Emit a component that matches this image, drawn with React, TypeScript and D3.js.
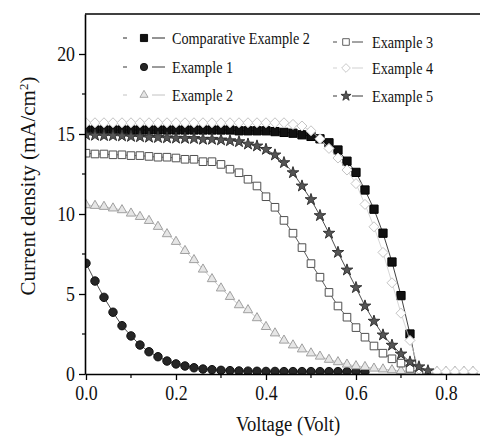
import React from "react";
import * as d3 from "d3";

// J-V curves, current density (mA/cm2) read every 0.02 V
const voltage = [
  0, 0.02, 0.04, 0.06, 0.08, 0.1, 0.12, 0.14, 0.16, 0.18, 0.2, 0.22, 0.24, 0.26, 0.28,
  0.3, 0.32, 0.34, 0.36, 0.38, 0.4, 0.42, 0.44, 0.46, 0.48, 0.5, 0.52, 0.54, 0.56, 0.58,
  0.6, 0.62, 0.64, 0.66, 0.68, 0.7, 0.72, 0.74, 0.76, 0.78, 0.8, 0.82, 0.84, 0.86,
];

const comparativeEx2 = [
  15.25, 15.25, 15.25, 15.25, 15.25, 15.25, 15.25, 15.25, 15.25, 15.25, 15.25, 15.25,
  15.25, 15.25, 15.25, 15.25, 15.25, 15.2, 15.2, 15.2, 15.2, 15.15, 15.1, 15.05, 14.95,
  14.85, 14.7, 14.45, 14.0, 13.3, 12.6, 11.5, 10.3, 8.8, 7.0, 4.9, 2.5, -0.3,
];
const example1 = [
  6.92, 5.81, 4.79, 3.86, 3.02, 2.38, 1.81, 1.39, 1.08, 0.81, 0.63, 0.5, 0.39, 0.31,
  0.27, 0.23, 0.21, 0.19, 0.18, 0.17, 0.16, 0.16, 0.15, 0.15, 0.15, 0.15, 0.15, 0.15,
  0.15, 0.15, 0.15, 0.15,
];
const example2 = [
  10.56, 10.52, 10.46, 10.36, 10.25, 10.04, 9.83, 9.58, 9.21, 8.75, 8.27, 7.7, 7.13,
  6.54, 5.94, 5.36, 4.83, 4.31, 4.0, 3.5, 2.95, 2.55, 2.1, 1.8, 1.55, 1.3, 1.1, 0.9,
  0.75, 0.6, 0.5, 0.45, 0.35, 0.3, 0.25, 0.2, 0.18, 0.16, 0.15, 0.15, 0.15, 0.15, 0.15,
  0.15,
];
const example3 = [
  13.8, 13.75, 13.75, 13.7, 13.7, 13.65, 13.65, 13.6, 13.55, 13.55, 13.5, 13.42, 13.42,
  13.27, 13.27, 13.1, 12.8, 12.58, 12.17, 11.75, 11.08, 10.42, 9.6, 8.8, 7.9, 6.9, 6.05,
  5.1, 4.25, 3.55, 2.9, 2.3, 1.75, 1.3, 0.95, 0.68, 0.35, 0.1,
];
const example4 = [
  15.7, 15.7, 15.7, 15.7, 15.7, 15.7, 15.7, 15.7, 15.7, 15.7, 15.7, 15.7, 15.7, 15.7,
  15.7, 15.7, 15.7, 15.7, 15.7, 15.7, 15.7, 15.7, 15.7, 15.6, 15.5, 15.2, 14.7, 14.1,
  13.5, 12.75, 11.9, 10.6, 9.2, 7.6, 5.7, 3.8, 2.1, 0.3, 0.15, 0.15, 0.15, 0.15, 0.15,
  0.15,
];
const example5 = [
  14.95, 14.92, 14.9, 14.9, 14.88, 14.85, 14.83, 14.8, 14.78, 14.76, 14.74, 14.73, 14.72,
  14.67, 14.67, 14.63, 14.58, 14.52, 14.37, 14.25, 14.04, 13.69, 13.21, 12.58, 11.75,
  10.9, 9.9, 8.8, 7.6, 6.5, 5.4, 4.25, 3.3, 2.44, 1.8, 1.25, 0.75, 0.45, 0.2,
];

const seriesNames = [
  "Comparative Example 2",
  "Example 1",
  "Example 2",
  "Example 3",
  "Example 4",
  "Example 5",
];

const yMajorTicks = [0, 5, 10, 15, 20];
const yMinorTicks = [2.5, 7.5, 12.5, 17.5];
const xMajorTicks = [0, 0.2, 0.4, 0.6, 0.8];
const xMinorTicks = [0.1, 0.3, 0.5, 0.7];

const FONT = "Liberation Serif, DejaVu Serif, serif";

// the scanned figure uses a narrow Times face: squeeze text horizontally
function squeeze(sel: any, ratio: number) {
  sel.each(function (this: SVGTextElement) {
    const w = this.getComputedTextLength();
    d3.select(this)
      .attr("textLength", w * ratio)
      .attr("lengthAdjust", "spacingAndGlyphs");
  });
}

export default function App() {
  const ref = React.useRef<SVGSVGElement>(null);

  React.useEffect(() => {
    drawChart();
  }, []);

  function drawChart() {
    const svg = d3.select(ref.current);
    svg.selectAll("*").remove();

    const left = 85;
    const right = 480;
    const top = 14;
    const bottom = 374;

    const x = d3.scaleLinear().domain([-0.0022, 0.8756]).range([left, right]);
    const y = d3.scaleLinear().domain([0, 22.5]).range([bottom, top]);

    const styles = [
      { values: comparativeEx2, symbol: d3.symbolSquare, size: 68, fill: "#111", stroke: "#000", line: "#111" },
      { values: example1, symbol: d3.symbolCircle, size: 56, fill: "#262626", stroke: "#111", line: "#222" },
      { values: example2, symbol: d3.symbolTriangle, size: 38, fill: "#e6e6e6", stroke: "#a0a0a0", line: "#bbb" },
      { values: example3, symbol: d3.symbolSquare, size: 58, fill: "#fff", stroke: "#505050", line: "#333" },
      { values: example4, symbol: d3.symbolDiamond2, size: 64, fill: "#fff", stroke: "#c4c4c4", line: "#ccc" },
      { values: example5, symbol: d3.symbolStar, size: 42, fill: "#555", stroke: "#333", line: "#222" },
    ];

    svg.append("defs")
      .append("clipPath")
      .attr("id", "plotClip")
      .append("rect")
      .attr("x", left)
      .attr("y", top)
      .attr("width", right - left)
      .attr("height", bottom - top);

    const plot = svg.append("g").attr("clip-path", "url(#plotClip)");

    styles.forEach((s) => {
      const pts = s.values.map((v, i) => [voltage[i], v] as [number, number]);
      plot.append("path")
        .datum(pts)
        .attr("fill", "none")
        .attr("stroke", s.line)
        .attr("stroke-width", 0.8)
        .attr("d", d3.line().x((d) => x(d[0])).y((d) => y(d[1])));

      plot.selectAll(null)
        .data(pts)
        .enter()
        .append("path")
        .attr("transform", (d) => `translate(${x(d[0])},${y(d[1])})`)
        .attr("d", d3.symbol().type(s.symbol).size(s.size)())
        .attr("fill", s.fill)
        .attr("stroke", s.stroke)
        .attr("stroke-width", 1);
    });

    // axes
    const yAxis = svg.append("g").attr("transform", `translate(${left},0)`);
    yAxis.call(
      d3.axisLeft(y).tickValues(yMajorTicks).tickSize(6).tickSizeOuter(0).tickPadding(4)
    );
    yAxis.append("g")
      .selectAll("line")
      .data(yMinorTicks)
      .enter()
      .append("line")
      .attr("x1", -3)
      .attr("x2", 0)
      .attr("y1", (d) => y(d))
      .attr("y2", (d) => y(d))
      .attr("stroke", "#000")
      .attr("stroke-width", 1.2);

    const xAxis = svg.append("g").attr("transform", `translate(0,${bottom})`);
    xAxis.call(
      d3.axisBottom(x)
        .tickValues(xMajorTicks)
        .tickSize(6)
        .tickSizeOuter(0)
        .tickPadding(5)
        .tickFormat(d3.format(".1f"))
    );
    xAxis.append("g")
      .selectAll("line")
      .data(xMinorTicks)
      .enter()
      .append("line")
      .attr("x1", (d) => x(d))
      .attr("x2", (d) => x(d))
      .attr("y1", 0)
      .attr("y2", 4)
      .attr("stroke", "#000")
      .attr("stroke-width", 1.2);

    svg.selectAll(".domain").attr("stroke-width", 1.6).attr("stroke", "#000");
    svg.selectAll(".tick line").attr("stroke-width", 1.3);
    const tickText = svg.selectAll(".tick text")
      .style("font-family", FONT)
      .attr("font-size", 21)
      .attr("fill", "#111");
    squeeze(tickText, 0.85);

    svg.append("line")
      .attr("x1", left)
      .attr("x2", right)
      .attr("y1", top)
      .attr("y2", top)
      .attr("stroke", "#000")
      .attr("stroke-width", 1.6);

    // axis titles
    const xTitle = svg.append("text")
      .attr("x", 288)
      .attr("y", 431)
      .attr("text-anchor", "middle")
      .style("font-family", FONT)
      .attr("font-size", 20)
      .attr("fill", "#111")
      .text("Voltage (Volt)");
    squeeze(xTitle, 0.93);

    const yTitle = svg.append("text")
      .attr("transform", "translate(35,186) rotate(-90)")
      .attr("text-anchor", "middle")
      .style("font-family", FONT)
      .attr("font-size", 21)
      .attr("fill", "#111");
    yTitle.append("tspan").text("Current density (mA/cm");
    yTitle.append("tspan").attr("baseline-shift", "super").attr("font-size", 13).text("2");
    yTitle.append("tspan").text(")");

    // legend
    const legendCols = [
      { sx: 144, rows: [38, 67, 95], dash: [-21, -17], seg: [8, 21], tx: 28 },
      { sx: 346, rows: [42, 68, 96], dash: [-13, -9], seg: [6, 17], tx: 26 },
    ];
    seriesNames.forEach((name, i) => {
      const col = legendCols[Math.floor(i / 3)];
      const ly = col.rows[i % 3];
      const s = styles[i];
      const g = svg.append("g").attr("transform", `translate(${col.sx},${ly})`);
      g.append("line")
        .attr("x1", col.dash[0]).attr("x2", col.dash[1])
        .attr("stroke", s.line).attr("stroke-width", 0.9);
      g.append("line")
        .attr("x1", col.seg[0]).attr("x2", col.seg[1])
        .attr("stroke", s.line).attr("stroke-width", 0.9);
      g.append("path")
        .attr("d", d3.symbol().type(s.symbol).size(s.size * 0.75)())
        .attr("fill", s.fill)
        .attr("stroke", s.stroke)
        .attr("stroke-width", 0.9);
      const t = g.append("text")
        .attr("x", col.tx)
        .attr("dy", "0.35em")
        .style("font-family", FONT)
        .attr("font-size", 16.5)
        .attr("fill", "#111")
        .text(name);
      squeeze(t, 0.86);
    });
  }

  return (
    <svg
      ref={ref}
      width={480}
      height={441}
      style={{ position: "absolute", left: 0, top: 0, background: "#fff" }}
    />
  );
}
